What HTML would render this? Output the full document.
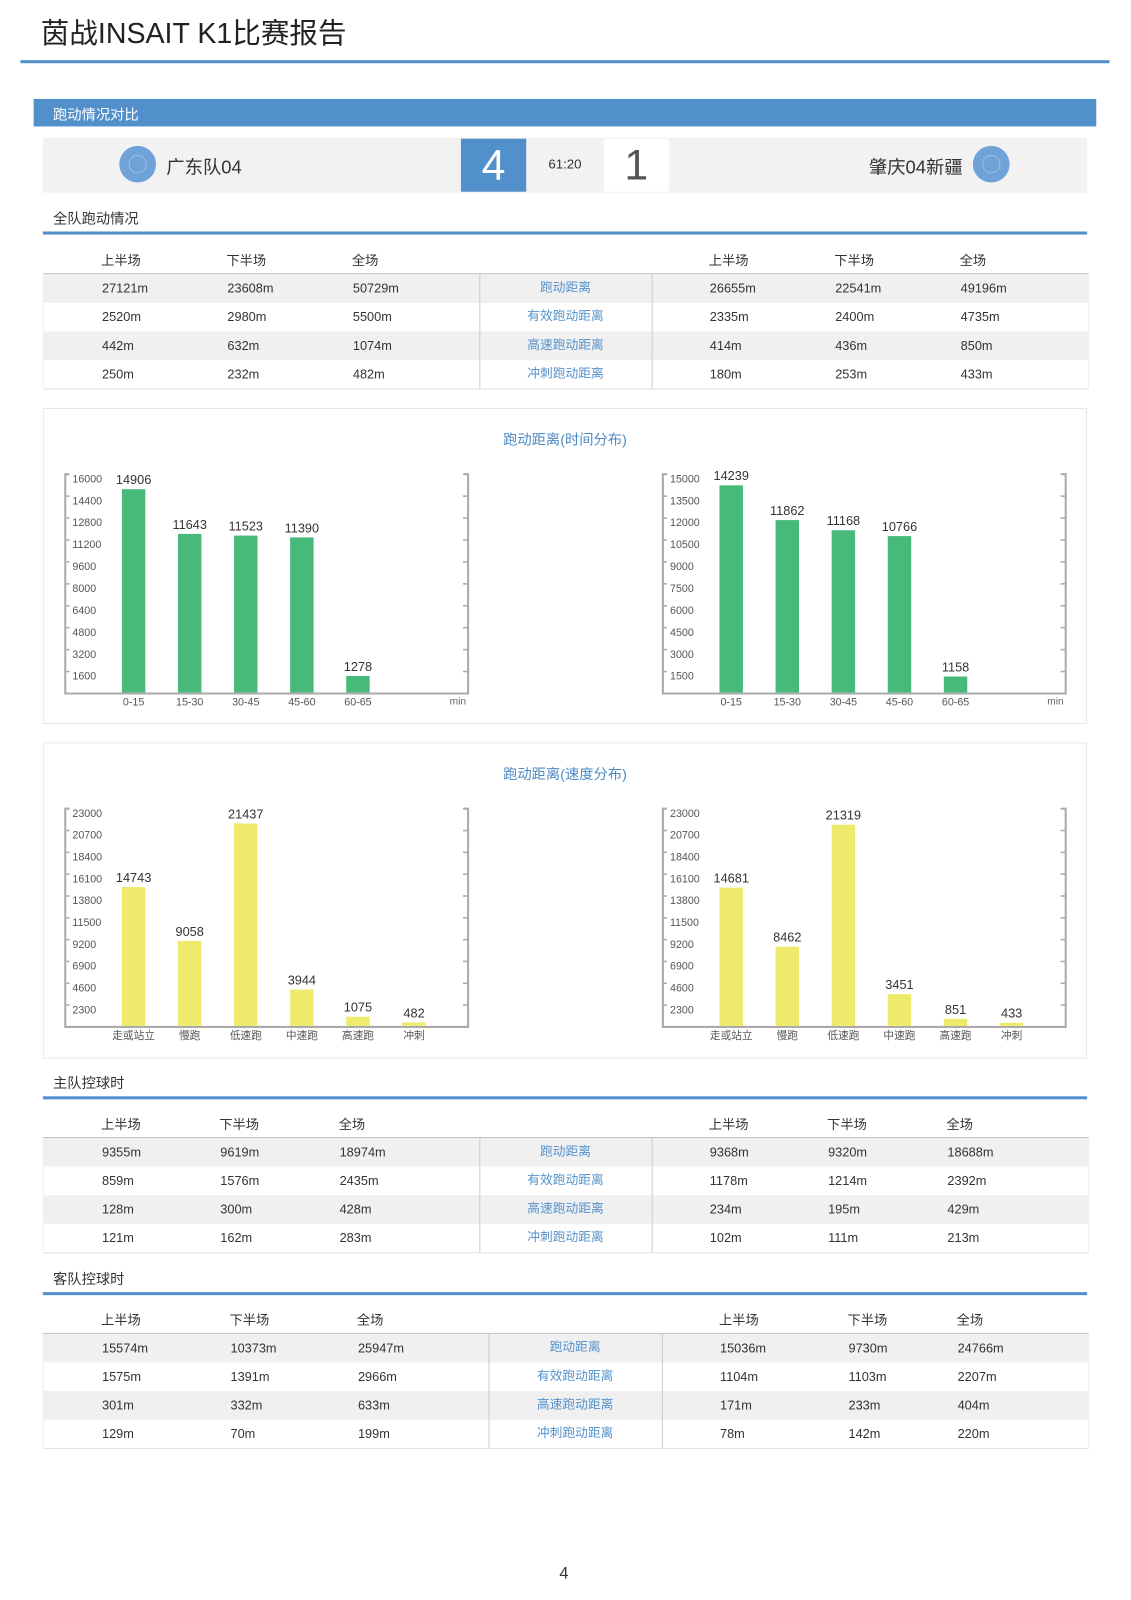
<!DOCTYPE html>
<html><head><meta charset="utf-8">
<style>
html,body{margin:0;padding:0;background:#fff;}
body{width:1131px;height:1600px;overflow:hidden;position:relative;font-family:"Liberation Sans","Noto Sans CJK SC",sans-serif;color:#333;}
#page{position:absolute;left:0;top:0;width:1109px;height:1569px;transform:scale(1.0198);transform-origin:0 0;}
.a{position:absolute;white-space:nowrap;}
.blue{background:#5290cc;}
.sec{font-size:14px;color:#333;}
.hdr{font-size:13px;color:#333;}
.tbl{position:absolute;left:42px;width:1024px;border-top:1px solid #bbb;border-bottom:1px solid #e2e2e2;}
.row{position:relative;height:28px;font-size:12.5px;}
.row:nth-child(odd){background:#f0f0f0;}
.row span{position:absolute;top:7px;}
.row span.lab{color:#5592cb;text-align:center;top:3px;line-height:20px;}
.div{position:absolute;top:0;bottom:0;border-left:1px solid #ccc;}
.card{position:absolute;left:42px;width:1022px;border:1px solid #e8e8e8;background:#fff;}
.ctitle{position:absolute;left:0;width:100%;text-align:center;font-size:14px;color:#4d8ac4;}
</style></head>
<body>
<div id="page">
  <div class="a" style="left:40px;top:11px;font-size:28px;color:#222;">茵战INSAIT K1比赛报告</div>
  <div class="a blue" style="left:20px;top:59px;width:1068px;height:3px;"></div>

  <div class="a blue" style="left:33px;top:97px;width:1042px;height:27px;"></div>
  <div class="a" style="left:52px;top:102px;font-size:14px;color:#fff;">跑动情况对比</div>

  <div class="a" style="left:42px;top:135px;width:1024px;height:54px;background:#f2f2f2;"></div>
  <div class="a" style="left:117px;top:143px;width:36px;height:36px;border-radius:50%;background:#6fa3d8;"><div style="position:absolute;left:9px;top:9px;width:16px;height:16px;border-radius:50%;border:1px solid #9cc0e6;"></div></div>
  <div class="a" style="left:163px;top:150px;font-size:18px;color:#333;">广东队04</div>
  <div class="a blue" style="left:452px;top:136px;width:64px;height:52px;color:#fff;font-size:42px;text-align:center;line-height:52px;">4</div>
  <div class="a" style="left:524px;top:153px;width:60px;text-align:center;font-size:13px;color:#333;">61:20</div>
  <div class="a" style="left:592px;top:136px;width:64px;height:52px;background:#fff;color:#555;font-size:42px;text-align:center;line-height:52px;">1</div>
  <div class="a" style="left:800px;top:150px;width:144px;text-align:right;font-size:18px;color:#333;">肇庆04新疆</div>
  <div class="a" style="left:954px;top:143px;width:36px;height:36px;border-radius:50%;background:#6fa3d8;"><div style="position:absolute;left:9px;top:9px;width:16px;height:16px;border-radius:50%;border:1px solid #9cc0e6;"></div></div>

  <div class="a sec" style="left:52px;top:204px;">全队跑动情况</div>
  <div class="a blue" style="left:42px;top:227px;width:1024px;height:3px;"></div>
  <div id="t1h"></div>
  <div class="tbl" id="t1" style="top:268px;"></div>

  <div class="card" style="top:400px;height:308px;"><div class="ctitle" style="top:20px;">跑动距离(时间分布)</div></div>
  <div class="card" style="top:728px;height:308px;"><div class="ctitle" style="top:20px;">跑动距离(速度分布)</div></div>

  <div class="a sec" style="left:52px;top:1052px;">主队控球时</div>
  <div class="a blue" style="left:42px;top:1075px;width:1024px;height:3px;"></div>
  <div id="t2h"></div>
  <div class="tbl" id="t2" style="top:1115px;"></div>

  <div class="a sec" style="left:52px;top:1244px;">客队控球时</div>
  <div class="a blue" style="left:42px;top:1267px;width:1024px;height:3px;"></div>
  <div id="t3h"></div>
  <div class="tbl" id="t3" style="top:1307px;"></div>

  <div class="a" style="left:540px;top:1535px;width:26px;text-align:center;font-size:16px;color:#333;">4</div>

  <svg id="charts" width="1109" height="1569" style="position:absolute;left:0;top:0;"></svg>
</div>
<script>
// ---- chart data ----
const timeCats = ["0-15","15-30","30-45","45-60","60-65"];
const timeHome = [14906,11643,11523,11390,1278];
const timeAway = [14239,11862,11168,10766,1158];
const timeTicksHome = [16000,14400,12800,11200,9600,8000,6400,4800,3200,1600];
const timeTicksAway = [15000,13500,12000,10500,9000,7500,6000,4500,3000,1500];
const speedCats = ["走或站立","慢跑","低速跑","中速跑","高速跑","冲刺"];
const speedHome = [14743,9058,21437,3944,1075,482];
const speedAway = [14681,8462,21319,3451,851,433];
const speedTicks = [23000,20700,18400,16100,13800,11500,9200,6900,4600,2300];

// ---- table data ----
const rowLabels = ["跑动距离","有效跑动距离","高速跑动距离","冲刺跑动距离"];
const t1Home = [["27121m","23608m","50729m"],["2520m","2980m","5500m"],["442m","632m","1074m"],["250m","232m","482m"]];
const t1Away = [["26655m","22541m","49196m"],["2335m","2400m","4735m"],["414m","436m","850m"],["180m","253m","433m"]];
const t2Home = [["9355m","9619m","18974m"],["859m","1576m","2435m"],["128m","300m","428m"],["121m","162m","283m"]];
const t2Away = [["9368m","9320m","18688m"],["1178m","1214m","2392m"],["234m","195m","429m"],["102m","111m","213m"]];
const t3Home = [["15574m","10373m","25947m"],["1575m","1391m","2966m"],["301m","332m","633m"],["129m","70m","199m"]];
const t3Away = [["15036m","9730m","24766m"],["1104m","1103m","2207m"],["171m","233m","404m"],["78m","142m","220m"]];
const headers = ["上半场","下半场","全场"];

const NS = "http://www.w3.org/2000/svg";
const svg = document.getElementById('charts');
function mk(tag, attrs, parent){
  const e = document.createElementNS(NS, tag);
  for (const k in attrs) e.setAttribute(k, attrs[k]);
  parent.appendChild(e);
  return e;
}
function drawChart(name, x0, x1, yTop, yBot, ticks, cats, vals, color, showMin){
  const g = mk('g', {}, svg);
  
  
  const max = ticks[0];
  const yScale = v => yBot - v / max * (yBot - yTop);
  const xScale = i => x0 + 67 + i * 55;
  const axis = mk('path', {d:`M${x0+4},${yTop} H${x0} V${yBot} H${x1} V${yTop} H${x1-4}`, fill:'none', stroke:'#aaa', 'stroke-width':2}, g);
  
  
  ticks.forEach(t => {
    const y = yScale(t);
    mk('line', {x1:x0, x2:x0+4, y1:y, y2:y, stroke:'#aaa', 'stroke-width':1.5}, g);
    mk('line', {x1:x1-5, x2:x1, y1:y, y2:y, stroke:'#aaa', 'stroke-width':1.5}, g);
    const tl = mk('text', {x:x0+7, y:y+8, 'font-size':10.5, fill:'#555', 'font-family':'Liberation Sans, sans-serif'}, g);
    tl.textContent = t;
    
    
  });
  cats.forEach((c, i) => {
    const cx = xScale(i), v = vals[i], y = yScale(v);
    const b = mk('rect', {x:cx-11.5, y:y, width:23, height:yBot-1-y, fill:color}, g);
    
    
    const vl = mk('text', {x:cx, y:y-5, 'text-anchor':'middle', 'font-size':12.5, fill:'#333', 'font-family':'Liberation Sans, sans-serif'}, g);
    vl.textContent = v;
    
    
    const xl = mk('text', {x:cx, y:yBot+12, 'text-anchor':'middle', 'font-size':10.5, fill:'#555', 'font-family':'Liberation Sans, Noto Sans CJK SC, sans-serif'}, g);
    xl.textContent = c;
    
    
  });
  if (showMin){
    const m = mk('text', {x:x1-2, y:yBot+11, 'text-anchor':'end', 'font-size':10, fill:'#666', 'font-family':'Liberation Sans, sans-serif'}, g);
    m.textContent = 'min';
    
    
  }
}
drawChart('time-chart-home', 64, 459, 465, 680, timeTicksHome, timeCats, timeHome, '#46b97b', true);
drawChart('time-chart-away', 650, 1045, 465, 680, timeTicksAway, timeCats, timeAway, '#46b97b', true);
drawChart('speed-chart-home', 64, 459, 793, 1007, speedTicks, speedCats, speedHome, '#eeea6c', false);
drawChart('speed-chart-away', 650, 1045, 793, 1007, speedTicks, speedCats, speedAway, '#eeea6c', false);

function buildTable(id, hid, top, home, away, colsL, colsR, d1, d2){
  const h = document.getElementById(hid);
  [colsL, colsR].forEach(cols => cols.forEach((x, j) => {
    const s = document.createElement('div');
    s.className = 'a hdr';
    s.style.left = x + 'px';
    s.style.top = (top - 23) + 'px';
    s.textContent = headers[j];
    
    
    h.appendChild(s);
  }));
  const t = document.getElementById(id);
  rowLabels.forEach((lab, i) => {
    const r = document.createElement('div');
    r.className = 'row';
    
    
    home[i].forEach((v, j) => {
      const s = document.createElement('span');
      s.style.left = (colsL[j] - 42) + 'px';
      s.textContent = v;
      r.appendChild(s);
    });
    const l = document.createElement('span');
    l.className = 'lab';
    l.style.left = (d1 - 42) + 'px';
    l.style.width = (d2 - d1) + 'px';
    l.textContent = lab;
    
    
    r.appendChild(l);
    away[i].forEach((v, j) => {
      const s = document.createElement('span');
      s.style.left = (colsR[j] - 42) + 'px';
      s.textContent = v;
      r.appendChild(s);
    });
    t.appendChild(r);
  });
  [d1, d2].forEach(d => {
    const dv = document.createElement('div');
    dv.className = 'div';
    dv.style.left = (d - 42) + 'px';
    t.appendChild(dv);
  });
  t.style.borderLeft = '1px solid #eee';
  t.style.borderRight = '1px solid #eee';
}
buildTable('t1', 't1h', 268, t1Home, t1Away, [99,222,345], [695,818,941], 469, 638);
buildTable('t2', 't2h', 1115, t2Home, t2Away, [99,215,332], [695,811,928], 469, 638);
buildTable('t3', 't3h', 1307, t3Home, t3Away, [99,225,350], [705,831,938], 478, 648);
</script>
</body></html>
